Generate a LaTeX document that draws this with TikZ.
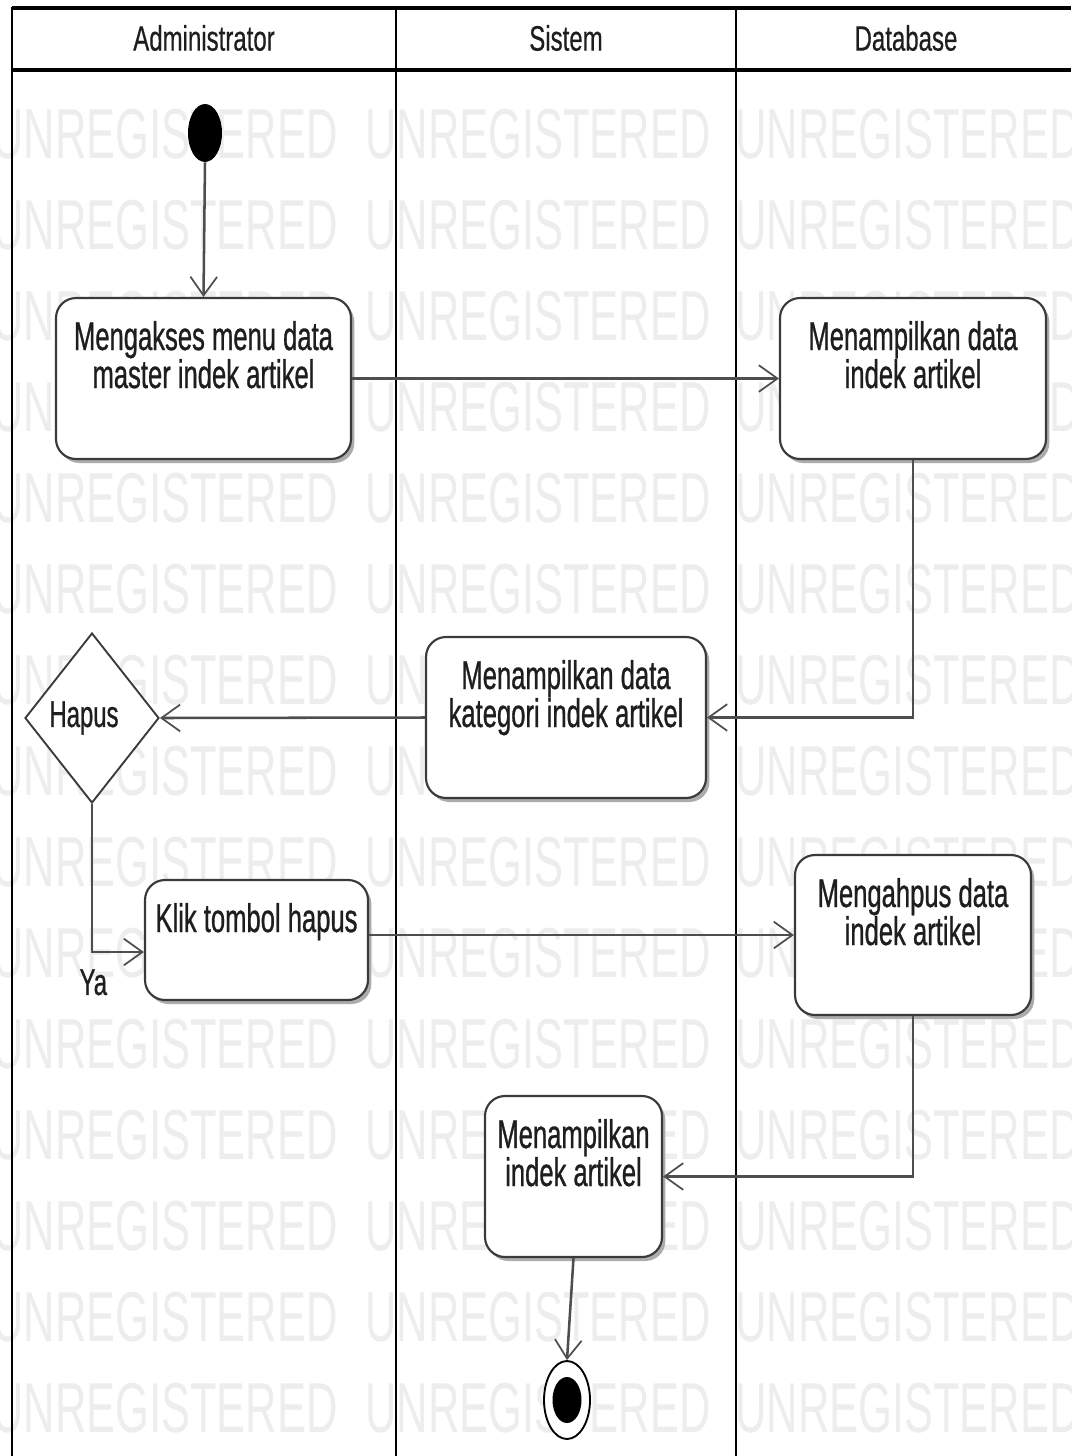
\documentclass[tikz,border=0pt]{standalone}
\usepackage{fontspec}
\setmainfont[FakeStretch=0.64, FakeBold=0.7]{Liberation Sans}
\newfontfamily\hdrfont[FakeStretch=0.68, FakeBold=0.4]{Liberation Sans}
\newfontfamily\wmfont[FakeStretch=0.615]{Liberation Sans}
\usetikzlibrary{shapes.geometric,arrows.meta,shadows,calc}

\definecolor{edgegray}{HTML}{3A3A3A}
\definecolor{inkgray}{HTML}{1E1E1E}
\definecolor{wmgray}{HTML}{EDEDED}

% text of an action box: fixed size, lines set from the top
\newcommand{\acttext}[3]{%
  \begin{minipage}[c][#2][t]{#1}\centering
  \fontsize{30pt}{28.5pt}\selectfont\rule{0pt}{39pt}#3\end{minipage}}

\tikzset{
  lanes/.style={draw=black, line width=2.2pt},
  laneshead/.style={font=\hdrfont\fontsize{26.5pt}{28pt}\selectfont, text=inkgray},
  act/.style={draw=edgegray, line width=1.6pt, rounded corners=15pt, fill=white,
    inner sep=0pt, text=inkgray,
    drop shadow={shadow xshift=2.5pt, shadow yshift=-3pt, fill=gray!65, opacity=1}},
  decision/.style={diamond, draw=edgegray, line width=1.4pt, fill=white, inner sep=0pt,
    minimum width=100.5pt, minimum height=127.5pt, text=inkgray,
    font=\fontsize{28pt}{30pt}\selectfont},
  flow/.style={draw=edgegray!90, line width=1.9pt,
    -{Straight Barb[length=14pt, width=20pt, line width=1.3pt]}},
  wm/.style={font=\wmfont\fontsize{53pt}{55pt}\selectfont, text=wmgray, inner sep=0pt,
    anchor=base west},
}

\begin{document}
\begin{tikzpicture}[x=0.75pt, y=-0.75pt]
\useasboundingbox (0,0) rectangle (1071,1456);
\fill[white] (0,0) rectangle (1071,1456);

% background watermark rows
\begin{scope}
  \clip (0,0) rectangle (1071,1456);
  \foreach \r in {0,...,14}
    \foreach \c/\k in {-8/a,365/b,735/c}
      \node[wm] (wm-\r-\k) at ({\c},{158+91*\r}) {UNREGISTERED};
\end{scope}

% swimlane frame and header row
\fill[white] (12,8) rectangle (1071,70);
\draw[lanes, line width=2.8pt] (12,8) -- (1071,8);
\draw[lanes, line width=2.8pt] (12,70) -- (1071,70);
\draw[lanes] (12,7) -- (12,1456);
\draw[lanes] (396,8) -- (396,1456);
\draw[lanes] (736,8) -- (736,1456);

\node[laneshead] (hadmin) at (204,38) {Administrator};
\node[laneshead] (hsys) at (566,38) {Sistem};
\node[laneshead] (hdb) at (906,38) {Database};

% initial and final states
\node[ellipse, fill=black, minimum width=25.5pt, minimum height=43.5pt, inner sep=0pt]
  (start) at (205,133) {};
\node[ellipse, draw=black, line width=1.4pt, fill=white, minimum width=34.5pt,
  minimum height=58.5pt, inner sep=0pt] (finish) at (567,1400) {};
\node[ellipse, fill=black, minimum width=21.75pt, minimum height=34.5pt, inner sep=0pt]
  (finishdot) at (567,1400) {};

% actions
\node[act] (b1) at (203.5,378.5)
  {\acttext{221.25pt}{120.75pt}{Mengakses menu data\\master indek artikel}};
\node[act] (b2) at (913,378.5)
  {\acttext{199.5pt}{120.75pt}{Menampilkan data\\indek artikel}};
\node[act] (b3) at (566,717.5)
  {\acttext{210pt}{120.75pt}{Menampilkan data\\kategori indek artikel}};
\node[act] (b4) at (256.5,940)
  {\acttext{167.25pt}{90pt}{Klik tombol hapus}};
\node[act] (b5) at (913,935)
  {\acttext{177pt}{120pt}{Mengahpus data\\indek artikel}};
\node[act] (b6) at (573.5,1176.5)
  {\acttext{132.75pt}{120.75pt}{Menampilkan\\indek artikel}};

% decision
\node[decision] (dec) at (92,718) {\hspace*{-12pt}Hapus};

% control flow
\draw[flow] (start.south) -- (b1.north);
\draw[flow] (b1.east) -- (b2.west);
\draw[flow] (b2.south) |- (b3.east);
\draw[flow] (b3.west) -- (dec.east);
\draw[flow] (dec.south) |- ([yshift=-9pt]b4.west)
  node[pos=0.5, anchor=north, xshift=1pt, yshift=-12pt, inner sep=0pt, text=inkgray,
       font=\fontsize{28pt}{30pt}\selectfont] (ya) {Ya};
\draw[flow] (b4.east |- b5.west) -- (b5.west);
\draw[flow] (b5.south) |- (b6.east);
\draw[flow] (b6.south) -- (finish.north);
\end{tikzpicture}
\end{document}
